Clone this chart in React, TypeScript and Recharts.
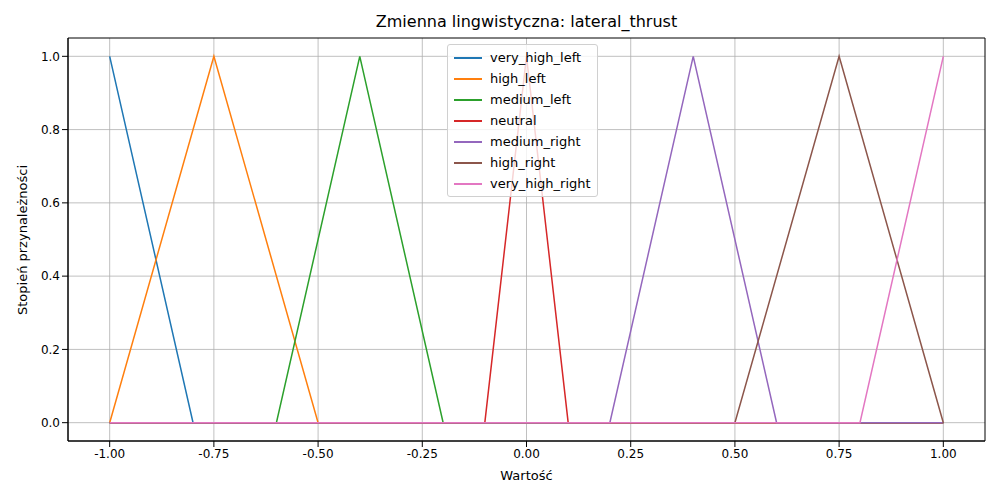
import React from 'react';
import { LineChart, Line, XAxis, YAxis, CartesianGrid, ReferenceArea } from 'recharts';

const seriesNames = ['very_high_left', 'high_left', 'medium_left', 'neutral', 'medium_right', 'high_right', 'very_high_right'];
const colors = ['#1f77b4', '#ff7f0e', '#2ca02c', '#d62728', '#9467bd', '#8c564b', '#e377c2'];

// membership function breakpoints [x, y]
const veryHighLeft = [[-1, 1], [-0.8, 0], [1, 0]];
const highLeft = [[-1, 0], [-0.75, 1], [-0.5, 0], [1, 0]];
const mediumLeft = [[-1, 0], [-0.6, 0], [-0.4, 1], [-0.2, 0], [1, 0]];
const neutral = [[-1, 0], [-0.1, 0], [0, 1], [0.1, 0], [1, 0]];
const mediumRight = [[-1, 0], [0.2, 0], [0.4, 1], [0.6, 0], [1, 0]];
const highRight = [[-1, 0], [0.5, 0], [0.75, 1], [1, 0]];
const veryHighRight = [[-1, 0], [0.8, 0], [1, 1]];

const xTicks = [-1, -0.75, -0.5, -0.25, 0, 0.25, 0.5, 0.75, 1];
const yTicks = [0, 0.2, 0.4, 0.6, 0.8, 1];

const allSeries = [veryHighLeft, highLeft, mediumLeft, neutral, mediumRight, highRight, veryHighRight].map((pts) =>
  pts.map(([x, y]) => ({ x, y }))
);

const font = 'DejaVu Sans, sans-serif';

const LegendBox = () => (
  <div style={{ position: 'absolute', left: 447, top: 44, border: '1px solid #d0d0d0', borderRadius: 3, background: 'rgba(255,255,255,0.8)', padding: '2px 6px', fontFamily: font, fontSize: 13 }}>
    {seriesNames.map((n, i) => (
      <div key={n} style={{ display: 'flex', alignItems: 'center', height: 21 }}>
        <span style={{ display: 'inline-block', width: 28, height: 2, background: colors[i], marginRight: 8 }} />
        <span style={{ color: '#000' }}>{n}</span>
      </div>
    ))}
  </div>
);

const App = () => {
  return (
    <div style={{ position: 'absolute', left: 0, top: 0, width: 1000, height: 500, background: '#fff', fontFamily: font }}>
      <div style={{ position: 'absolute', top: 12, width: 1000, paddingLeft: 53, boxSizing: 'border-box', textAlign: 'center', fontSize: 16 }}>
        Zmienna lingwistyczna: lateral_thrust
      </div>
      <div style={{ position: 'absolute', top: 468, width: 1000, paddingLeft: 53, boxSizing: 'border-box', textAlign: 'center', fontSize: 13 }}>
        Wartość
      </div>
      <div style={{ position: 'absolute', left: 22, top: 240, transform: 'translate(-50%, -50%) rotate(-90deg)', fontSize: 13, whiteSpace: 'nowrap' }}>
        Stopień przynależności
      </div>
      <LineChart width={1000} height={500} margin={{ top: 38, right: 15, bottom: 29, left: 18 }}>
        <CartesianGrid stroke="#b0b0b0" strokeWidth={0.8} horizontalValues={yTicks} verticalValues={xTicks} />
        <XAxis
          dataKey="x"
          type="number"
          domain={[-1.1, 1.1]}
          ticks={xTicks}
          tickFormatter={(v) => v.toFixed(2)}
          height={30}
          allowDataOverflow
          axisLine={{ stroke: '#000' }}
          tickLine={{ stroke: '#000' }}
          tick={{ fontSize: 12, fill: '#000', fontFamily: font }}
        />
        <YAxis
          type="number"
          domain={[-0.05, 1.05]}
          ticks={yTicks}
          tickFormatter={(v) => v.toFixed(1)}
          width={50}
          allowDataOverflow
          axisLine={{ stroke: '#000' }}
          tickLine={{ stroke: '#000' }}
          tick={{ fontSize: 12, fill: '#000', fontFamily: font }}
        />
        <ReferenceArea x1={-1.1} x2={1.1} y1={-0.05} y2={1.05} fill="none" stroke="#000" strokeWidth={1} ifOverflow="visible" />
        {allSeries.map((d, i) => (
          <Line
            key={seriesNames[i]}
            data={d}
            dataKey="y"
            name={seriesNames[i]}
            type="linear"
            stroke={colors[i]}
            strokeWidth={1.5}
            dot={false}
            isAnimationActive={false}
          />
        ))}
      </LineChart>
      <LegendBox />
    </div>
  );
};

export default App;
